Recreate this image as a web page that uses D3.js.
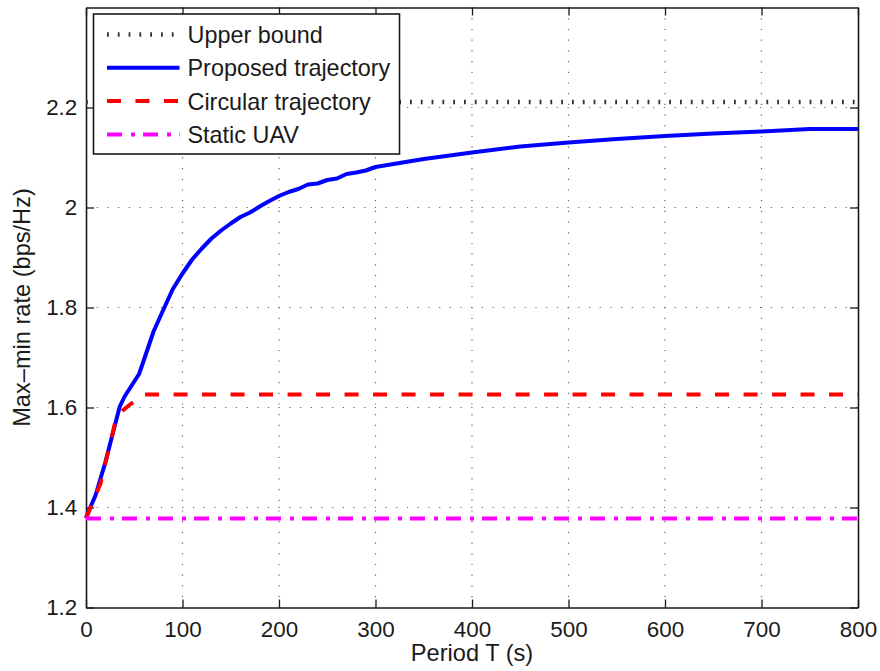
<!DOCTYPE html>
<html>
<head>
<meta charset="utf-8">
<script src="https://cdn.jsdelivr.net/npm/d3@7"></script>
<style>
  body { margin: 0; background: #fff; }
  svg { display: block; font-family: "Liberation Sans", Arial, Helvetica, sans-serif; }
  .axis text { font-size: 22.4px; fill: #1a1a1a; }
  .axis path, .axis line { stroke: #1a1a1a; }
</style>
</head>
<body>
<svg id="chart"></svg>
<script>
// period T (s) and the max-min rate
const proposedT = [0, 10, 20, 30, 35, 40, 55, 60, 70, 80, 90, 100, 110, 120, 130, 140, 150, 160, 170, 180, 190, 200,
    210, 220, 230, 240, 250, 260, 270, 280, 290, 300, 350, 400, 450, 500, 550, 600, 650, 700, 750, 800];
const proposedRate = [1.38, 1.425, 1.49, 1.565, 1.602, 1.622, 1.667, 1.695, 1.752, 1.795, 1.837, 1.868, 1.896, 1.918,
    1.938, 1.954, 1.968, 1.981, 1.99, 2.002, 2.013, 2.023, 2.031, 2.037, 2.046, 2.048, 2.055, 2.058, 2.067, 2.07, 2.074,
    2.081, 2.097, 2.11, 2.122, 2.13, 2.137, 2.143, 2.148, 2.152, 2.157, 2.157];

const circularT = [0, 15, 30, 37, 45, 50, 60, 800];
const circularRate = [1.378, 1.448, 1.568, 1.592, 1.605, 1.612, 1.626, 1.626];

const staticT = [0, 800];
const staticRate = [1.378, 1.378];

const upperT = [0, 800];
const upperRate = [2.211, 2.211];

const xTicks = [0, 100, 200, 300, 400, 500, 600, 700, 800];
const yTicks = [1.2, 1.4, 1.6, 1.8, 2.0, 2.2];

const legendLabels = ['Upper bound', 'Proposed trajectory', 'Circular trajectory', 'Static UAV'];

const width = 880, height = 671;
const margin = { left: 86, right: 22, top: 7.5, bottom: 63.5 };
const innerW = width - margin.left - margin.right;
const innerH = height - margin.top - margin.bottom;

const svg = d3.select('#chart')
    .attr('width', width)
    .attr('height', height);

const x = d3.scaleLinear().domain([0, 800]).range([0, innerW]);
const y = d3.scaleLinear().domain([1.2, 2.4]).range([innerH, 0]);

const g = svg.append('g')
    .attr('transform', `translate(${margin.left},${margin.top})`);

// grid
g.append('g')
    .selectAll('line')
    .data(xTicks.slice(1, -1))
    .join('line')
        .attr('x1', d => x(d)).attr('x2', d => x(d))
        .attr('y1', 0).attr('y2', innerH)
        .attr('stroke', '#666')
        .attr('stroke-width', 1.2)
        .attr('stroke-dasharray', '1.2,9.5');

g.append('g')
    .selectAll('line')
    .data(yTicks.slice(1))
    .join('line')
        .attr('x1', 0).attr('x2', innerW)
        .attr('y1', d => y(d)).attr('y2', d => y(d))
        .attr('stroke', '#666')
        .attr('stroke-width', 1.2)
        .attr('stroke-dasharray', '1.2,9.5');

const fmt = d3.format('~g');

// axes, ticks inside on all four sides
g.append('g')
    .attr('class', 'axis')
    .attr('transform', `translate(0,${innerH})`)
    .call(d3.axisBottom(x).tickValues(xTicks).tickFormat(fmt).tickSizeInner(-8).tickSizeOuter(0).tickPadding(13.4));

g.append('g')
    .attr('class', 'axis')
    .call(d3.axisLeft(y).tickValues(yTicks).tickFormat(fmt).tickSizeInner(-8).tickSizeOuter(0).tickPadding(8.7));

g.append('g')
    .attr('class', 'axis')
    .call(d3.axisTop(x).tickValues(xTicks).tickFormat('').tickSizeInner(-8).tickSizeOuter(0));

g.append('g')
    .attr('class', 'axis')
    .attr('transform', `translate(${innerW},0)`)
    .call(d3.axisRight(y).tickValues(yTicks).tickFormat('').tickSizeInner(-8).tickSizeOuter(0));

g.selectAll('.axis path').attr('stroke-width', 1.6);
g.selectAll('.axis line').attr('stroke-width', 1.3);

// series
const line = d3.line()
    .x(d => x(d[0]))
    .y(d => y(d[1]));

const series = [
    { t: upperT, v: upperRate, color: '#333', w: 4.5, dash: '1.8,9' },
    { t: proposedT, v: proposedRate, color: '#0000ff', w: 4, dash: null },
    { t: circularT, v: circularRate, color: '#ff0000', w: 4, dash: '14,14.5' },
    { t: staticT, v: staticRate, color: '#ff00ff', w: 4, dash: '15,9,4,8' }
];

g.append('g')
    .selectAll('path')
    .data(series)
    .join('path')
        .attr('d', s => line(d3.zip(s.t, s.v)))
        .attr('fill', 'none')
        .attr('stroke', s => s.color)
        .attr('stroke-width', s => s.w)
        .attr('stroke-dasharray', s => s.dash)
        .attr('stroke-linejoin', 'round');

// axis labels
svg.append('text')
    .attr('x', margin.left + innerW / 2)
    .attr('y', 661)
    .attr('text-anchor', 'middle')
    .attr('font-size', 23.6)
    .attr('fill', '#1a1a1a')
    .text('Period T (s)');

svg.append('text')
    .attr('transform', `translate(30,${margin.top + innerH / 2}) rotate(-90)`)
    .attr('text-anchor', 'middle')
    .attr('font-size', 23.6)
    .attr('fill', '#1a1a1a')
    .text('Max–min rate (bps/Hz)');

// legend
const legend = svg.append('g')
    .attr('transform', 'translate(93.5,14)');

legend.append('rect')
    .attr('width', 306)
    .attr('height', 140)
    .attr('fill', '#fff')
    .attr('stroke', '#1a1a1a')
    .attr('stroke-width', 1.6);

const item = legend.selectAll('g.item')
    .data(series.map((s, i) => ({ ...s, label: legendLabels[i] })))
    .join('g')
        .attr('class', 'item')
        .attr('transform', (d, i) => `translate(0,${20.5 + i * 33.3})`);

item.append('line')
    .attr('x1', 13.5).attr('x2', 86)
    .attr('stroke', d => d.color)
    .attr('stroke-width', d => d.w)
    .attr('stroke-dasharray', d => d.dash);

item.append('text')
    .attr('x', 94)
    .attr('dy', '0.36em')
    .attr('font-size', 23.4)
    .attr('fill', '#1a1a1a')
    .text(d => d.label);
</script>
</body>
</html>
